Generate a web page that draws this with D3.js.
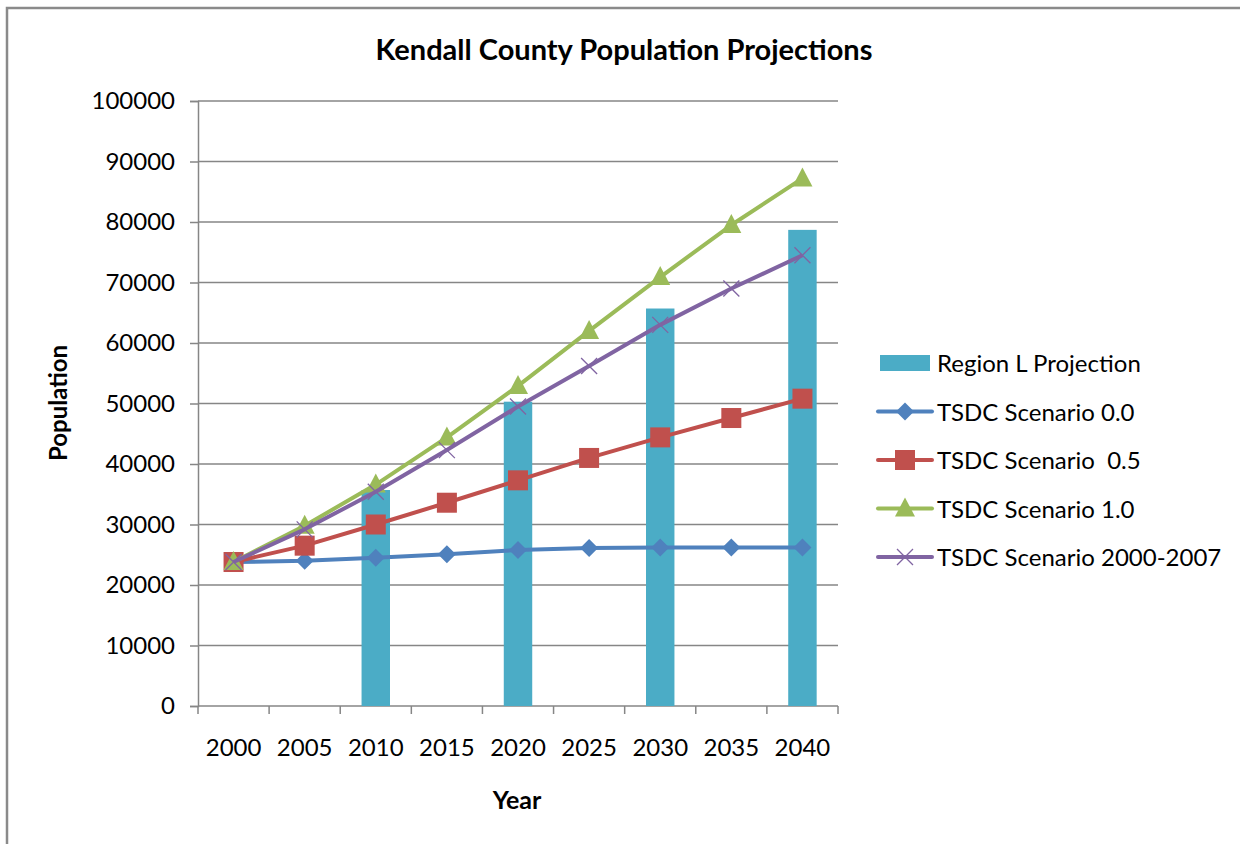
<!DOCTYPE html>
<html>
<head>
<meta charset="utf-8">
<script src="https://cdn.jsdelivr.net/npm/d3@7"></script>
<style>
  body { margin: 0; background: #fff; }
  svg { display: block; font-family: Lato, "Open Sans", sans-serif; }
  .legend text { white-space: pre; }
</style>
</head>
<body>
<div id="chart"></div>
<script>
// data
var years = ["2000", "2005", "2010", "2015", "2020", "2025", "2030", "2035", "2040"];
var regionL = [null, null, 35700, null, 50300, null, 65700, null, 78700];
var tsdc00 = [23800, 24000, 24500, 25100, 25800, 26100, 26200, 26200, 26200];
var tsdc05 = [23800, 26500, 30000, 33600, 37300, 41000, 44400, 47600, 50800];
var tsdc10 = [23800, 29800, 36600, 44400, 52900, 62000, 70900, 79500, 87200];
var tsdc2007 = [23800, 29200, 35400, 42300, 49500, 56200, 63000, 69000, 74500];
var yTicks = [0, 10000, 20000, 30000, 40000, 50000, 60000, 70000, 80000, 90000, 100000];

var series = [
  {name: "TSDC Scenario 0.0", values: tsdc00, color: "#4F81BD", marker: "diamond"},
  {name: "TSDC Scenario  0.5", values: tsdc05, color: "#C0504D", marker: "square"},
  {name: "TSDC Scenario 1.0", values: tsdc10, color: "#9BBB59", marker: "triangle"},
  {name: "TSDC Scenario 2000-2007", values: tsdc2007, color: "#8064A2", marker: "cross"}
];
var barColor = "#4BACC6";

var W = 1240, H = 844;
var margin = {top: 101, left: 198, right: 402, bottom: 138};
var width = W - margin.left - margin.right,
    height = H - margin.top - margin.bottom;

var svg = d3.select("#chart").append("svg")
    .attr("width", W)
    .attr("height", H);

// outer frame
svg.append("rect")
    .attr("x", 7).attr("y", 8)
    .attr("width", W + 20).attr("height", H + 20)
    .attr("fill", "none")
    .attr("stroke", "#8a8a8a")
    .attr("stroke-width", 2.5);

svg.append("text")
    .attr("x", 624).attr("y", 60)
    .attr("text-anchor", "middle")
    .style("font-weight", "bold")
    .style("font-size", "29px")
    .text("Kendall County Population Projections");

var g = svg.append("g")
    .attr("transform", "translate(" + margin.left + "," + margin.top + ")");

var x = d3.scaleBand().domain(years).range([0, width]).padding(0);
var y = d3.scaleLinear().domain([0, 100000]).range([height, 0]);

// gridlines + y axis
g.append("g")
    .attr("class", "axis axis--y")
    .call(d3.axisLeft(y).tickValues(yTicks).tickFormat(d3.format("d")).tickSize(8).tickPadding(15))
    .call(function(a) {
      a.attr("font-family", null);
      a.select(".domain").attr("stroke", "#868686").attr("stroke-width", 1.5);
      a.selectAll(".tick line").attr("stroke", "#868686").attr("stroke-width", 1.5);
      a.selectAll(".tick text").style("font-size", "24px").attr("fill", "#000");
    });

g.append("g")
    .selectAll("line")
    .data(yTicks.filter(function(d) { return d > 0; }))
    .enter().append("line")
    .attr("x1", 0).attr("x2", width)
    .attr("y1", function(d) { return y(d); })
    .attr("y2", function(d) { return y(d); })
    .attr("stroke", "#868686")
    .attr("stroke-width", 1.5);

// x axis: labels at category centres, ticks at boundaries
g.append("g")
    .attr("class", "axis axis--x")
    .attr("transform", "translate(0," + height + ")")
    .call(d3.axisBottom(x).tickSize(0).tickPadding(33))
    .call(function(a) {
      a.attr("font-family", null);
      a.select(".domain").remove();
      a.selectAll(".tick text").style("font-size", "24px").attr("fill", "#000");
    });

var bounds = d3.range(years.length + 1).map(function(i) { return i * x.step(); });
g.append("g").selectAll("line")
    .data(bounds)
    .enter().append("line")
    .attr("x1", function(d) { return d; })
    .attr("x2", function(d) { return d; })
    .attr("y1", height).attr("y2", height + 8)
    .attr("stroke", "#868686").attr("stroke-width", 1.5);
g.append("line")
    .attr("x1", 0).attr("x2", width)
    .attr("y1", height).attr("y2", height)
    .attr("stroke", "#868686").attr("stroke-width", 1.5);

// bars
var barW = x.step() * 0.4;
g.append("g").selectAll("rect")
    .data(years.map(function(yr, i) { return {year: yr, value: regionL[i]}; })
      .filter(function(d) { return d.value != null; }))
    .enter().append("rect")
    .attr("x", function(d) { return x(d.year) + x.bandwidth() / 2 - barW / 2; })
    .attr("y", function(d) { return y(d.value); })
    .attr("width", barW)
    .attr("height", function(d) { return height - y(d.value); })
    .attr("fill", barColor);

var line = d3.line()
    .x(function(d) { return x(d.year) + x.bandwidth() / 2; })
    .y(function(d) { return y(d.value); });

function drawMarker(sel, type, color) {
  if (type === "diamond") {
    sel.append("path").attr("d", "M0,-9L9,0L0,9L-9,0Z").attr("fill", color);
  } else if (type === "square") {
    sel.append("rect").attr("x", -10).attr("y", -10).attr("width", 20).attr("height", 20).attr("fill", color);
  } else if (type === "triangle") {
    sel.append("path").attr("d", "M0,-11L10,8L-10,8Z").attr("fill", color);
  } else {
    sel.append("path").attr("d", "M-8,-8L8,8M-8,8L8,-8").attr("stroke", color).attr("stroke-width", 1.3).attr("fill", "none");
  }
}

series.forEach(function(s) {
  var pts = years.map(function(yr, i) { return {year: yr, value: s.values[i]}; });
  g.append("path")
      .datum(pts)
      .attr("fill", "none")
      .attr("stroke", s.color)
      .attr("stroke-width", 4)
      .attr("stroke-linejoin", "round")
      .attr("d", line);
  g.append("g").selectAll("g")
      .data(pts)
      .enter().append("g")
      .attr("transform", function(d) { return "translate(" + line.x()(d) + "," + line.y()(d) + ")"; })
      .each(function() { drawMarker(d3.select(this), s.marker, s.color); });
});

// axis titles
svg.append("text")
    .attr("transform", "translate(67,403) rotate(-90)")
    .attr("text-anchor", "middle")
    .style("font-weight", "bold")
    .style("font-size", "24px")
    .text("Population");

svg.append("text")
    .attr("x", 517).attr("y", 809)
    .attr("text-anchor", "middle")
    .style("font-weight", "bold")
    .style("font-size", "25px")
    .text("Year");

// legend
var legend = svg.append("g").attr("class", "legend").attr("transform", "translate(878,363)");
var rowH = 48.5;
legend.append("rect")
    .attr("x", 2).attr("y", -8).attr("width", 50).attr("height", 16)
    .attr("fill", barColor);
legend.append("text")
    .attr("x", 59).attr("y", 9)
    .style("font-size", "24px")
    .text("Region L Projection");

series.forEach(function(s, i) {
  var row = legend.append("g").attr("transform", "translate(0," + ((i + 1) * rowH) + ")");
  row.append("line")
      .attr("x1", 0).attr("x2", 54)
      .attr("stroke", s.color).attr("stroke-width", 4).attr("stroke-linecap", "round");
  drawMarker(row.append("g").attr("transform", "translate(27,0)"), s.marker, s.color);
  row.append("text")
      .attr("x", 59).attr("y", 9)
      .style("font-size", "24px")
      .text(s.name);
});
</script>
</body>
</html>
